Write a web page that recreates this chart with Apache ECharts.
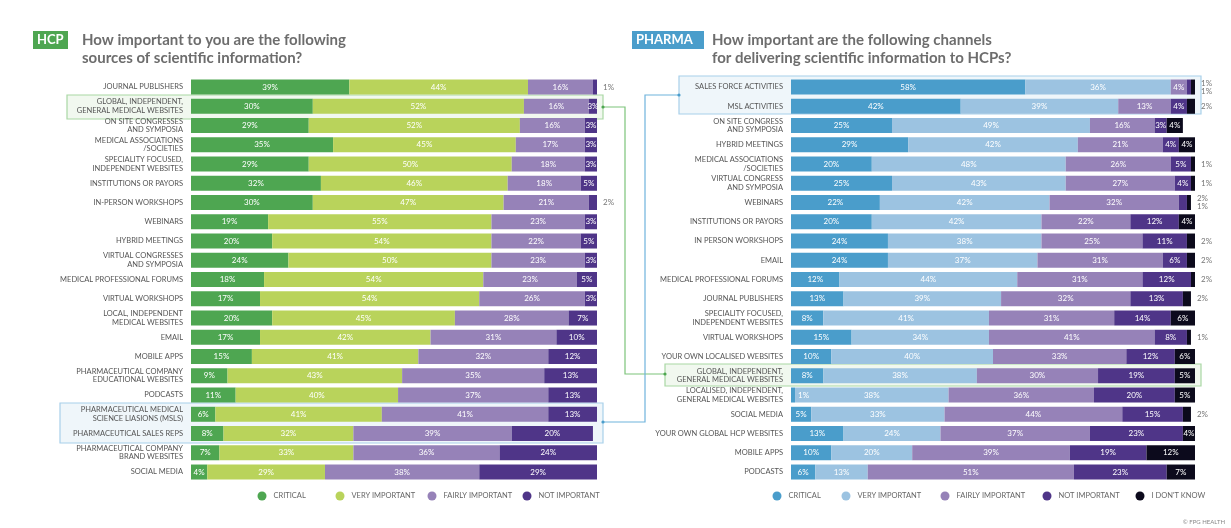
<!DOCTYPE html>
<html>
<head>
<meta charset="utf-8">
<script src="https://cdn.jsdelivr.net/npm/echarts@6/dist/echarts.min.js"></script>
<style>
  html, body { margin: 0; padding: 0; background: #fff; }
  #chart { width: 1231px; height: 528px; }
</style>
</head>
<body>
<div id="chart"></div>
<script>
// ---- HCP side ----
var hcpCats = [
  'JOURNAL PUBLISHERS',
  'GLOBAL, INDEPENDENT,\nGENERAL MEDICAL WEBSITES',
  'ON SITE CONGRESSES\nAND SYMPOSIA',
  'MEDICAL ASSOCIATIONS\n/SOCIETIES',
  'SPECIALITY FOCUSED,\nINDEPENDENT WEBSITES',
  'INSTITUTIONS OR PAYORS',
  'IN-PERSON WORKSHOPS',
  'WEBINARS',
  'HYBRID MEETINGS',
  'VIRTUAL CONGRESSES\nAND SYMPOSIA',
  'MEDICAL PROFESSIONAL FORUMS',
  'VIRTUAL WORKSHOPS',
  'LOCAL, INDEPENDENT\nMEDICAL WEBSITES',
  'EMAIL',
  'MOBILE APPS',
  'PHARMACEUTICAL COMPANY\nEDUCATIONAL WEBSITES',
  'PODCASTS',
  'PHARMACEUTICAL MEDICAL\nSCIENCE LIASIONS (MSLS)',
  'PHARMACEUTICAL SALES REPS',
  'PHARMACEUTICAL COMPANY\nBRAND WEBSITES',
  'SOCIAL MEDIA'
];
var hcpCritical  = [39, 30, 29, 35, 29, 32, 30, 19, 20, 24, 18, 17, 20, 17, 15,  9, 11,  6,  8,  7,  4];
var hcpVeryImp   = [44, 52, 52, 45, 50, 46, 47, 55, 54, 50, 54, 54, 45, 42, 41, 43, 40, 41, 32, 33, 29];
var hcpFairlyImp = [16, 16, 16, 17, 18, 18, 21, 23, 22, 23, 23, 26, 28, 31, 32, 35, 37, 41, 39, 36, 38];
var hcpNotImp    = [ 1,  3,  3,  3,  3,  5,  2,  3,  5,  3,  5,  3,  7, 10, 12, 13, 13, 13, 20, 24, 29];

// ---- PHARMA side ----
var phCats = [
  'SALES FORCE ACTIVITIES',
  'MSL ACTIVITIES',
  'ON SITE CONGRESS\nAND SYMPOSIA',
  'HYBRID MEETINGS',
  'MEDICAL ASSOCIATIONS\n/SOCIETIES',
  'VIRTUAL CONGRESS\nAND SYMPOSIA',
  'WEBINARS',
  'INSTITUTIONS OR PAYORS',
  'IN PERSON WORKSHOPS',
  'EMAIL',
  'MEDICAL PROFESSIONAL FORUMS',
  'JOURNAL PUBLISHERS',
  'SPECIALITY FOCUSED,\nINDEPENDENT WEBSITES',
  'VIRTUAL WORKSHOPS',
  'YOUR OWN LOCALISED WEBSITES',
  'GLOBAL, INDEPENDENT,\nGENERAL MEDICAL WEBSITES',
  'LOCALISED, INDEPENDENT,\nGENERAL MEDICAL WEBSITES',
  'SOCIAL MEDIA',
  'YOUR OWN GLOBAL HCP WEBSITES',
  'MOBILE APPS',
  'PODCASTS'
];
var phCritical  = [58, 42, 25, 29, 20, 25, 22, 20, 24, 24, 12, 13,  8, 15, 10,  8,  1,  5, 13, 10,  6];
var phVeryImp   = [36, 39, 49, 42, 48, 43, 42, 42, 38, 37, 44, 39, 41, 34, 40, 38, 38, 33, 24, 20, 13];
var phFairlyImp = [ 4, 13, 16, 21, 26, 27, 32, 22, 25, 31, 31, 32, 31, 41, 33, 30, 36, 44, 37, 39, 51];
var phNotImp    = [ 1,  4,  3,  4,  5,  4,  2, 12, 11,  6, 12, 13, 14,  8, 12, 19, 20, 15, 23, 19, 23];
var phDontKnow  = [ 1,  2,  4,  4,  1,  1,  1,  4,  2,  2,  2,  2,  6,  1,  6,  5,  5,  2,  4, 12,  7];

var legendNames = ['CRITICAL', 'VERY IMPORTANT', 'FAIRLY IMPORTANT', 'NOT IMPORTANT', "I DON'T KNOW"];
var hcpColors = ['#4ea651', '#b9d35b', '#9682b8', '#4f3588'];
var phColors  = ['#4a9dcb', '#9cc3e1', '#9682b8', '#4f3588', '#0c0a1c'];

var PX_PER_PCT = 4.05;
var labelGray = '#777';

// label rules: small end segments go outside in gray, tiny first segment drawn just after it
function makeData(values, idx, side) {
  var nSeries = side === 'hcp' ? 4 : 5;
  return values.map(function (v, row) {
    var item = { value: v };
    if (v <= 2) {
      if (idx === 0) {
        item.label = { position: 'right', distance: 3, color: '#fff' };
      } else if (idx === nSeries - 1) {
        var prevSmall = side === 'ph' && phNotImp[row] <= 2;
        item.label = { position: 'right', distance: 6, color: labelGray, offset: [0, prevSmall ? 4 : 0] };
      } else if (side === 'ph' && idx === 3) {
        item.label = { position: 'right', distance: 6, color: labelGray,
                       offset: [phDontKnow[row] * PX_PER_PCT, -4] };
      }
    }
    return item;
  });
}

function buildSeries(arrs, colors, side, axisIdx) {
  return arrs.map(function (arr, i) {
    return {
      name: legendNames[i],
      type: 'bar',
      stack: side,
      xAxisIndex: axisIdx,
      yAxisIndex: axisIdx,
      barWidth: 15,
      itemStyle: { color: colors[i] },
      label: {
        show: true,
        position: 'inside',
        color: '#fff',
        fontSize: 8,
        fontFamily: 'Lato',
        formatter: '{c}%'
      },
      data: makeData(arr, i, side)
    };
  });
}

var series = []
  .concat(buildSeries([hcpCritical, hcpVeryImp, hcpFairlyImp, hcpNotImp], hcpColors, 'hcp', 0))
  .concat(buildSeries([phCritical, phVeryImp, phFairlyImp, phNotImp, phDontKnow], phColors, 'ph', 1));

// one legend per item so each sits where the reference puts it
var hcpLegendX = [262, 340, 432, 527];
var phLegendX  = [777, 846, 945, 1047, 1140];
function oneLegend(name, color, cx) {
  return {
    left: cx - 4.5, top: 491.5, padding: 0, icon: 'circle', itemWidth: 9, itemHeight: 9,
    selectedMode: false,
    textStyle: { fontSize: 7.5, color: '#666', fontFamily: 'Lato', padding: [0, 0, 0, 2] },
    data: [{ name: name, itemStyle: { color: color } }]
  };
}
var legends = hcpLegendX.map(function (x, i) { return oneLegend(legendNames[i], hcpColors[i], x); })
  .concat(phLegendX.map(function (x, i) { return oneLegend(legendNames[i], phColors[i], x); }));

var catAxisStyle = {
  type: 'category',
  inverse: true,
  axisLine: { show: false },
  axisTick: { show: false },
  axisLabel: { color: '#555', fontSize: 7.5, fontFamily: 'Lato', lineHeight: 8.5, margin: 8 }
};

var titleStyle = { fontSize: 15, fontWeight: 'bold', color: '#6d6d6d', fontFamily: 'Lato', lineHeight: 18 };

var chart = echarts.init(document.getElementById('chart'));
var option = {
  backgroundColor: '#fff',
  animation: false,
  title: [
    { text: 'How important to you are the following\nsources of scientific information?',
      left: 82, top: 31, padding: 0, textStyle: titleStyle },
    { text: 'How important are the following channels\nfor delivering scientific information to HCPs?',
      left: 712, top: 31, padding: 0, textStyle: titleStyle }
  ],
  legend: legends,
  grid: [
    { left: 191, width: 406, top: 77.4, height: 404.25 },
    { left: 791, width: 404, top: 77.4, height: 404.25 }
  ],
  xAxis: [
    { type: 'value', gridIndex: 0, min: 0, max: 100, show: false },
    { type: 'value', gridIndex: 1, min: 0, max: 100, show: false }
  ],
  yAxis: [
    Object.assign({ gridIndex: 0, data: hcpCats }, catAxisStyle),
    Object.assign({ gridIndex: 1, data: phCats }, catAxisStyle)
  ],
  graphic: [
    // highlight boxes (behind)
    { type: 'rect', z: -1, shape: { x: 67, y: 95, width: 536, height: 24 },
      style: { fill: 'rgba(214,236,210,0.35)', stroke: '#a9d7a4', lineWidth: 1.2 } },
    { type: 'rect', z: -1, shape: { x: 60, y: 403, width: 543, height: 40 },
      style: { fill: 'rgba(210,228,242,0.35)', stroke: '#a8d0ea', lineWidth: 1.2 } },
    { type: 'rect', z: -1, shape: { x: 679, y: 76, width: 522, height: 38 },
      style: { fill: 'rgba(210,228,242,0.35)', stroke: '#a8d0ea', lineWidth: 1.2 } },
    { type: 'rect', z: -1, shape: { x: 665, y: 364, width: 536, height: 22 },
      style: { fill: 'rgba(214,236,210,0.35)', stroke: '#a9d7a4', lineWidth: 1.2 } },
    // connectors
    { type: 'polyline', shape: { points: [[603, 107], [625, 107], [625, 374], [665, 374]] },
      style: { fill: null, stroke: '#7cc47a', lineWidth: 1.2 } },
    { type: 'polyline', shape: { points: [[603, 422], [645, 422], [645, 95], [679, 95]] },
      style: { fill: null, stroke: '#6fb3dc', lineWidth: 1.2 } },
    { type: 'circle', shape: { cx: 603, cy: 107, r: 1.6 }, style: { fill: '#4ea651' } },
    { type: 'circle', shape: { cx: 665, cy: 374, r: 1.6 }, style: { fill: '#4ea651' } },
    { type: 'circle', shape: { cx: 603, cy: 422, r: 1.6 }, style: { fill: '#4a9dcb' } },
    { type: 'circle', shape: { cx: 679, cy: 95, r: 1.6 }, style: { fill: '#4a9dcb' } },
    // badges
    { type: 'rect', shape: { x: 33, y: 31, width: 35, height: 18 }, style: { fill: '#4ea651' } },
    { type: 'text', left: 37, top: 33,
      style: { text: 'HCP', fill: '#fff', fontSize: 13, fontWeight: 'bold', fontFamily: 'Lato' } },
    { type: 'rect', shape: { x: 632, y: 31, width: 72, height: 18 }, style: { fill: '#4a9dcb' } },
    { type: 'text', left: 636, top: 33,
      style: { text: 'PHARMA', fill: '#fff', fontSize: 13, fontWeight: 'bold', fontFamily: 'Lato' } },
    { type: 'text', right: 6, top: 519,
      style: { text: '© FPG HEALTH', fill: '#888', fontSize: 6, fontFamily: 'Lato' } }
  ],
  series: series
};
chart.setOption(option);
window.addEventListener('resize', function () { chart.resize(); });
</script>
</body>
</html>
